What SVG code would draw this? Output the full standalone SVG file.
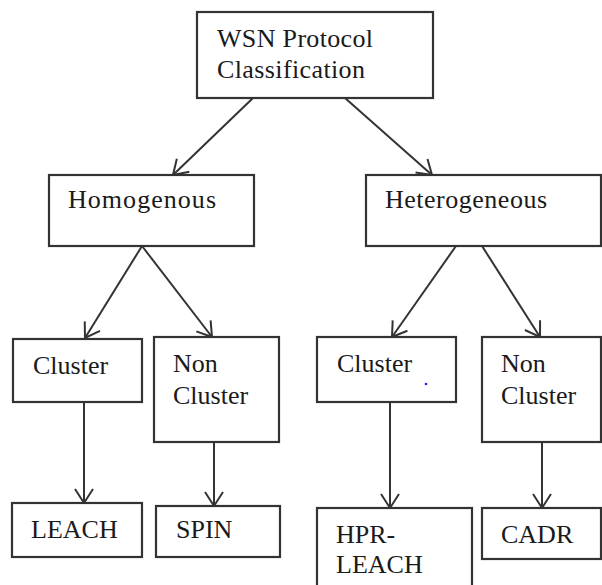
<svg xmlns="http://www.w3.org/2000/svg" width="602" height="585" viewBox="0 0 602 585">
<defs>
<marker id="arr" markerUnits="userSpaceOnUse" markerWidth="20" markerHeight="24" refX="15" refY="10" orient="auto" overflow="visible">
<path d="M1,1 L15,10 L1,19" fill="none" stroke="#333" stroke-width="2"/>
</marker>
<style>
.box{fill:#fff;stroke:#333;stroke-width:2.2}
.t{font-family:"Liberation Serif","Times New Roman",serif;font-size:26px;fill:#1a1a1a}
.c{stroke:#333;stroke-width:2;fill:none;marker-end:url(#arr)}
</style>
</defs>
<rect width="602" height="585" fill="#fff"/>
<g id="connectors">
<line class="c" x1="253" y1="98" x2="173" y2="175"/>
<line class="c" x1="345" y1="98" x2="432" y2="175"/>
<line class="c" x1="142" y1="246" x2="85" y2="338"/>
<line class="c" x1="142" y1="246" x2="212" y2="337"/>
<line class="c" x1="456" y1="246" x2="392" y2="337"/>
<line class="c" x1="482" y1="246" x2="540" y2="337"/>
<line class="c" x1="84" y1="402" x2="84" y2="503"/>
<line class="c" x1="214" y1="442" x2="214" y2="506"/>
<line class="c" x1="390" y1="402" x2="390" y2="508"/>
<line class="c" x1="542" y1="442" x2="542" y2="508"/>
</g>
<g id="root">
<rect class="box" x="197" y="12" width="236" height="86"/>
<text class="t" x="217" y="47" textLength="156">WSN Protocol</text>
<text class="t" x="217" y="78" textLength="148">Classification</text>
</g>
<g id="homogenous">
<rect class="box" x="49" y="175" width="205" height="71"/>
<text class="t" x="68" y="208" textLength="148">Homogenous</text>
</g>
<g id="heterogeneous">
<rect class="box" x="366" y="175" width="235" height="71"/>
<text class="t" x="385" y="208" textLength="162">Heterogeneous</text>
</g>
<g id="cluster-homo">
<rect class="box" x="13" y="339" width="129" height="63"/>
<text class="t" x="33" y="374">Cluster</text>
</g>
<g id="noncluster-homo">
<rect class="box" x="154" y="337" width="125" height="105"/>
<text class="t" x="173" y="372">Non</text>
<text class="t" x="173" y="404">Cluster</text>
</g>
<g id="leach">
<rect class="box" x="12" y="503" width="130" height="54"/>
<text class="t" x="31" y="538">LEACH</text>
</g>
<g id="spin">
<rect class="box" x="156" y="506" width="124" height="51"/>
<text class="t" x="176" y="538">SPIN</text>
</g>
<g id="cluster-hetero">
<rect class="box" x="317" y="337" width="139" height="65"/>
<text class="t" x="337" y="372">Cluster</text>
<circle cx="426" cy="384" r="1.3" fill="#2020ff"/>
</g>
<g id="noncluster-hetero">
<rect class="box" x="482" y="337" width="119" height="105"/>
<text class="t" x="501" y="372">Non</text>
<text class="t" x="501" y="404">Cluster</text>
</g>
<g id="hpr-leach">
<rect class="box" x="317" y="508" width="155" height="90"/>
<text class="t" x="336" y="543">HPR-</text>
<text class="t" x="336" y="573">LEACH</text>
</g>
<g id="cadr">
<rect class="box" x="482" y="508" width="119" height="51"/>
<text class="t" x="501" y="543">CADR</text>
</g>
</svg>
